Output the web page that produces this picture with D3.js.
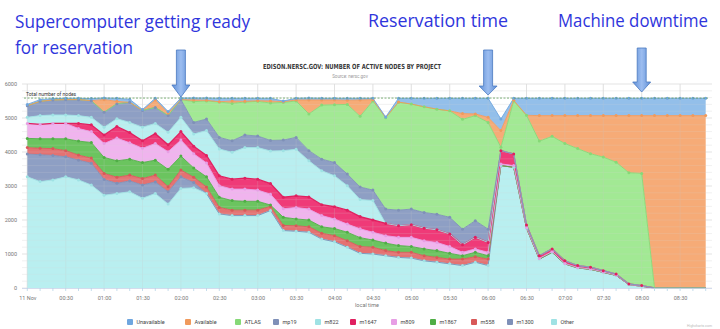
<!DOCTYPE html>
<html><head><meta charset="utf-8">
<script src="https://cdn.jsdelivr.net/npm/d3@7"></script>
<style>body{margin:0;background:#fff;} svg{display:block;}</style>
</head><body>
<svg id="c" width="720" height="329"></svg>
<script>
// ---------------- data ----------------
const times = ["00:00","00:10","00:20","00:30","00:40","00:50","01:00","01:10","01:20","01:30","01:40","01:50",
 "02:00","02:10","02:20","02:30","02:40","02:50","03:00","03:10","03:20","03:30","03:40","03:50",
 "04:00","04:10","04:20","04:30","04:40","04:50","05:00","05:10","05:20","05:30","05:40","05:50",
 "06:00","06:10","06:20","06:30","06:40","06:50","07:00","07:10","07:20","07:30","07:40","07:50",
 "08:00","08:10","08:20","08:30","08:40","08:50"];
const seriesKeys = ["Other","m1300","m558","m1867","m809","m1647","m822","mp19","ATLAS","Available","Unavailable"];
const legendOrder = ["Unavailable","Available","ATLAS","mp19","m822","m1647","m809","m1867","m558","m1300","Other"];
const other = [3270,3130,3180,3270,3180,3030,2730,2780,2830,2640,2780,2470,2930,
 2950,2780,2180,2130,2130,2130,2280,1690,1670,1640,1440,1360,1200,1020,
 1000,950,900,880,800,760,710,660,760,660,
 3600,3550,1760,850,1050,710,590,550,460,370,100,50,0,0,0,0,0];
const m1300 = [670,790,720,590,580,640,460,300,320,390,340,360,340,150,
 0,0,0,0,0,0,0,0,0,0,0,0,0,0,0,0,0,0,0,0,0,0,0,0,0,0,0,0,0,0,0,0,0,0,0,0,0,0,0,0];
const m558 = [190,190,200,180,150,150,180,180,170,190,200,150,200,
 160,190,190,160,160,160,120,150,160,160,170,180,190,200,
 200,150,150,170,150,140,140,190,160,190,
 0,0,0,0,0,0,0,0,0,0,0,0,0,0,0,0,0];
const m1867 = [270,280,290,350,410,460,470,480,470,470,440,510,410,
 270,300,300,280,260,260,40,240,200,200,190,210,250,260,
 210,220,200,170,200,200,170,100,130,100,
 0,0,0,0,0,0,0,0,0,0,0,0,0,0,0,0,0];
const m809 = [440,420,450,450,370,320,410,670,480,420,490,520,470,
 420,410,340,340,360,330,320,250,340,320,330,280,240,260,
 230,220,240,270,240,240,200,100,100,100,
 50,50,20,20,20,10,10,10,10,10,0,0,0,0,0,0,0];
const m1647 = [0,0,0,0,150,200,250,340,300,220,290,200,250,
 220,220,290,290,320,320,310,340,340,360,320,360,410,360,
 360,360,340,370,370,370,370,220,340,290,
 390,340,70,80,80,80,60,50,40,30,20,20,0,0,0,0,0];
const m822 = [180,260,250,250,230,220,230,230,300,400,300,370,420,
 360,730,790,790,900,930,960,1370,1370,1060,1000,910,720,500,
 570,0,0,0,0,0,0,0,0,0,
 0,0,0,0,0,0,0,0,0,0,0,0,0,0,0,0,0];
const mp19 = [340,420,440,450,470,490,440,440,590,490,470,490,520,
 340,340,340,340,370,340,310,310,350,300,340,390,340,370,
 310,420,460,460,460,460,490,460,490,390,
 0,0,0,0,0,0,0,0,0,0,0,0,0,0,0,0,0];
const atlas = [0,0,0,0,0,0,0,0,0,0,0,0,0,
 610,530,1040,1100,970,1020,1100,1110,1070,1080,1590,1700,2050,2080,
 2620,2690,3170,3090,3110,3090,3130,3230,3090,3140,
 100,1560,3230,3370,3310,3450,3440,3340,3340,3290,3270,3300,0,0,0,0,0];
const available = [0,0,0,0,0,0,370,70,0,0,220,80,0,
 50,20,10,70,20,20,60,20,30,410,150,140,120,480,
 40,0,10,0,0,0,0,170,50,150,
 490,20,0,750,610,820,970,1120,1220,1370,1680,1700,5070,5070,5070,5070,5070];
const unavailable = [40,50,40,40,40,60,50,90,90,30,50,40,50,
 60,70,100,80,90,70,80,20,50,60,50,50,60,50,
 40,20,110,170,250,320,370,450,460,560,
 340,60,500,510,510,510,510,510,510,510,510,510,510,510,510,510,510];
const xTickLabels = ["11 Nov","00:30","01:00","01:30","02:00","02:30","03:00","03:30","04:00","04:30",
 "05:00","05:30","06:00","06:30","07:00","07:30","08:00","08:30"];
const yTickValues = [0,1000,2000,3000,4000,5000,6000];
const totalNodes = 5586;
const annotations = [
 {time:"02:00", lines:["Supercomputer getting ready","for reservation"]},
 {time:"06:00", lines:["Reservation time"]},
 {time:"08:00", lines:["Machine downtime"]}
];
const colors = {Unavailable:"#93bfea",Available:"#f6ab77",ATLAS:"#a2e994",mp19:"#8e9fc4",m822:"#b9eff0",
 m1647:"#ef3a78",m809:"#f0b4ee",m1867:"#6bc45f",m558:"#e47272",m1300:"#8e9fc4",Other:"#b9eff0"};
const lineColors = {Unavailable:"#6fa6df",Available:"#f09a5c",ATLAS:"#86d977",mp19:"#7f90b8",m822:"#9fe2e4",
 m1647:"#e0205f",m809:"#e79ee5",m1867:"#4fae45",m558:"#d85858",m1300:"#7f90b8",Other:"#9fe2e4"};

// ---------------- build ----------------
const valuesByKey = {Other:other,m1300:m1300,m558:m558,m1867:m1867,m809:m809,m1647:m1647,m822:m822,
 mp19:mp19,ATLAS:atlas,Available:available,Unavailable:unavailable};
const toMin = s => { const [h,m] = s.split(":").map(Number); return h*60+m; };
const rows = times.map((t,i) => { const r = {t: toMin(t)}; seriesKeys.forEach(k => r[k] = valuesByKey[k][i]); return r; });

const svg = d3.select("#c");
const x = d3.scaleLinear().domain([0,510]).range([27.3,680.1]);
const y = d3.scaleLinear().domain([0,6000]).range([288,84]);
const plotL = 22, plotR = 712;

// grid
const g = svg.append("g");
d3.range(0,6001,200).forEach(v => {
  if (v % 1000 !== 0) g.append("line").attr("x1",plotL).attr("x2",plotR).attr("y1",y(v)).attr("y2",y(v))
    .attr("stroke","#f1f1f1").attr("stroke-width",0.6);
});
yTickValues.forEach(v => g.append("line").attr("x1",plotL).attr("x2",plotR).attr("y1",y(v)).attr("y2",y(v))
  .attr("stroke","#e3e3e3").attr("stroke-width",0.8));
const tickMins = xTickLabels.map((d,i) => i*30);
tickMins.forEach(m => g.append("line").attr("x1",x(m)).attr("x2",x(m)).attr("y1",y(6000)).attr("y2",y(0))
  .attr("stroke","#e3e3e3").attr("stroke-width",0.8));

// stacked areas
const stack = d3.stack().keys(seriesKeys);
const layers = stack(rows);
const area = d3.area().x(d => x(d.data.t)).y0(d => y(d[0])).y1(d => y(d[1]));
const topLine = d3.line().x(d => x(d.data.t)).y(d => y(d[1]));
svg.append("g").selectAll("path").data(layers).join("path")
  .attr("d", area).attr("fill", d => colors[d.key]);

// faint grid showing through
const g2 = svg.append("g").attr("opacity",0.35);
d3.range(200,6001,200).forEach(v => g2.append("line").attr("x1",plotL).attr("x2",plotR).attr("y1",y(v)).attr("y2",y(v))
  .attr("stroke","#d8d8d8").attr("stroke-width",0.5));
tickMins.forEach(m => g2.append("line").attr("x1",x(m)).attr("x2",x(m)).attr("y1",y(6000)).attr("y2",y(0))
  .attr("stroke","#c8c8c8").attr("stroke-width",0.6));

// lines
svg.append("g").selectAll("path").data(layers).join("path")
  .attr("d", topLine).attr("fill","none").attr("stroke", d => lineColors[d.key])
  .attr("stroke-width", d => d.key === "m1647" ? 1.3 : 0.9);

// markers
const mg = svg.append("g");
layers.forEach(L => {
  L.forEach(d => {
    if (d[1] - d[0] > 0 || L.key === "Unavailable") {
      mg.append("circle").attr("cx", x(d.data.t)).attr("cy", y(d[1])).attr("r", 1.5)
        .attr("fill", lineColors[L.key]);
    }
  });
});

// total line
svg.append("line").attr("x1",plotL+2).attr("x2",plotR-4).attr("y1",y(totalNodes)).attr("y2",y(totalNodes))
  .attr("stroke","#5e9c57").attr("stroke-width",0.8).attr("stroke-dasharray","2,1.5");
svg.append("text").attr("x",26).attr("y",y(totalNodes)-2.5).text("Total number of nodes")
  .attr("font-family","Roboto, sans-serif").attr("font-size",5).attr("fill","#333");

// axes labels
const axFont = "Roboto, sans-serif";
yTickValues.forEach(v => svg.append("text").attr("x",17).attr("y",y(v)+2).attr("text-anchor","end")
  .attr("font-family",axFont).attr("font-size",5.5).attr("fill","#777").text(v));
svg.append("line").attr("x1",plotL).attr("x2",plotR).attr("y1",288.5).attr("y2",288.5).attr("stroke","#ccd6eb").attr("stroke-width",0.8);
rows.forEach(r => svg.append("line").attr("x1",x(r.t)).attr("x2",x(r.t)).attr("y1",288).attr("y2",291)
  .attr("stroke","#b8d4e6").attr("stroke-width",0.8));
const xAxis = d3.axisBottom(x).tickValues(tickMins).tickFormat((d,i) => xTickLabels[i]).tickSize(0).tickPadding(6);
const ax = svg.append("g").attr("transform","translate(0,290)").call(xAxis);
ax.select(".domain").remove();
ax.selectAll("text").attr("font-family",axFont).attr("font-size",5.5).attr("fill","#777");
svg.append("text").attr("x",(plotL+plotR)/2).attr("y",307).attr("text-anchor","middle")
  .attr("font-family",axFont).attr("font-size",5.5).attr("fill","#777").text("local time");

// title
svg.append("text").attr("x",352).attr("y",69).attr("text-anchor","middle")
  .attr("font-family","'DejaVu Sans Condensed','DejaVu Sans',sans-serif").attr("font-weight","bold")
  .attr("font-size",7).attr("fill","#3a3a3a").attr("textLength",178).attr("lengthAdjust","spacingAndGlyphs")
  .text("EDISON.NERSC.GOV: NUMBER OF ACTIVE NODES BY PROJECT");
svg.append("text").attr("x",350).attr("y",77.5).attr("text-anchor","middle")
  .attr("font-family",axFont).attr("font-size",4.5).attr("fill","#999").text("Source: nersc.gov");

// legend
const legX = [130,188,238,276,318,353,394,433,474,510,554];
legendOrder.forEach((k,i) => {
  const lg = svg.append("g").attr("transform",`translate(${legX[i]},322)`);
  lg.append("rect").attr("x",-3).attr("y",-3).attr("width",6).attr("height",6).attr("rx",1)
    .attr("fill",lineColors[k]);
  lg.append("text").attr("x",6.5).attr("y",2).attr("font-family",axFont).attr("font-size",5.5)
    .attr("fill","#444").text(k);
});
svg.append("text").attr("x",712).attr("y",327).attr("text-anchor","end").attr("font-family",axFont)
  .attr("font-size",3.5).attr("fill","#bbb").text("Highcharts.com");

// arrows & annotations
const defs = svg.append("defs");
const gr = defs.append("linearGradient").attr("id","ag").attr("x1",0).attr("x2",1).attr("y1",0).attr("y2",0);
gr.append("stop").attr("offset","0%").attr("stop-color","#5f8fd6");
gr.append("stop").attr("offset","50%").attr("stop-color","#9cbdf0");
gr.append("stop").attr("offset","100%").attr("stop-color","#5f8fd6");
const annY = [{top:50,neck:85,tip:97},{top:50,neck:86,tip:95},{top:48,neck:82,tip:92}];
annotations.forEach((a,i) => {
  const cx = x(toMin(a.time)), p = annY[i];
  svg.append("path").attr("d",`M${cx-4.5},${p.top}L${cx+4.5},${p.top}L${cx+4.5},${p.neck}L${cx+9},${p.neck}L${cx},${p.tip}L${cx-9},${p.neck}L${cx-4.5},${p.neck}Z`)
    .attr("fill","url(#ag)").attr("stroke","#4a78c0").attr("stroke-width",0.8);
});
const annFont = "'Open Sans', 'Noto Sans', sans-serif";
const annColor = "#2f35dc";
svg.append("text").attr("x",15).attr("y",28).attr("font-family",annFont).attr("font-size",18.5).attr("fill",annColor)
  .attr("textLength",235).attr("lengthAdjust","spacingAndGlyphs").text(annotations[0].lines[0]);
svg.append("text").attr("x",15).attr("y",53.5).attr("font-family",annFont).attr("font-size",18.5).attr("fill",annColor)
  .attr("textLength",118).attr("lengthAdjust","spacingAndGlyphs").text(annotations[0].lines[1]);
svg.append("text").attr("x",368).attr("y",27).attr("font-family",annFont).attr("font-size",18).attr("fill",annColor)
  .attr("textLength",140).attr("lengthAdjust","spacingAndGlyphs").text(annotations[1].lines[0]);
svg.append("text").attr("x",558).attr("y",27).attr("font-family",annFont).attr("font-size",18).attr("fill",annColor)
  .attr("textLength",150).attr("lengthAdjust","spacingAndGlyphs").text(annotations[2].lines[0]);
</script>
</body></html>
